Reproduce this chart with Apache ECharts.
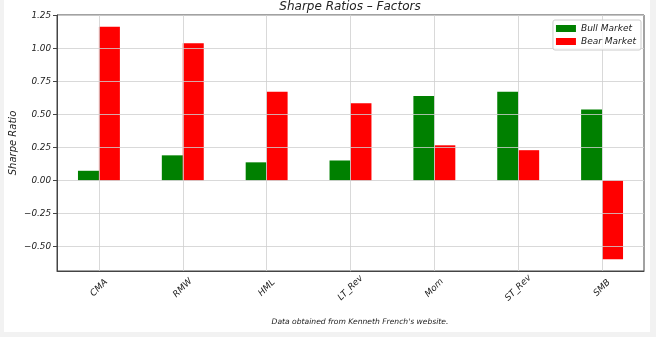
<!DOCTYPE html>
<html>
<head>
<meta charset="utf-8">
<script src="https://cdn.jsdelivr.net/npm/echarts@6/dist/echarts.min.js"></script>
<style>
  html, body { margin: 0; padding: 0; background: #f2f2f2; }
  #paper { position: absolute; left: 4px; top: 0; width: 646px; height: 332px; background: #ffffff; }
  #chart { position: absolute; left: 0; top: 0; width: 656px; height: 337px; }
</style>
</head>
<body>
<div id="paper"></div>
<div id="chart"></div>
<script>
// Sharpe ratios of the Fama-French factors in bull vs. bear markets
const factors = ['CMA', 'RMW', 'HML', 'LT_Rev', 'Mom', 'ST_Rev', 'SMB'];
const bullMarket = [0.073, 0.19, 0.137, 0.151, 0.639, 0.671, 0.538];
const bearMarket = [1.165, 1.04, 0.672, 0.584, 0.266, 0.229, -0.598];
const yTicks = [-0.5, -0.25, 0, 0.25, 0.5, 0.75, 1.0, 1.25];
const yStep = 0.25;

const FONT = 'DejaVu Sans';
const minus = s => s.replace('-', '\u2212');

// value range padded by 5% on both ends
const allVals = bullMarket.concat(bearMarket);
const vMin = Math.min(...allVals), vMax = Math.max(...allVals);
const pad = (vMax - vMin) * 0.05;

const chart = echarts.init(document.getElementById('chart'), null, { renderer: 'canvas' });

chart.setOption({
  animation: false,
  backgroundColor: 'transparent',
  title: {
    text: 'Sharpe Ratios \u2013 Factors',
    left: 350,
    textAlign: 'center',
    top: 1,
    padding: 0,
    textStyle: { fontFamily: FONT, fontStyle: 'italic', fontWeight: 'normal', fontSize: 12, color: '#222' }
  },
  legend: {
    data: ['Bull Market', 'Bear Market'],
    orient: 'vertical',
    right: 15,
    top: 20,
    icon: 'rect',
    itemWidth: 20,
    itemHeight: 7,
    itemGap: 4,
    padding: [4, 5, 4, 3],
    backgroundColor: 'rgba(255,255,255,0.8)',
    borderColor: '#cccccc',
    borderWidth: 1,
    borderRadius: 2,
    textStyle: { fontFamily: FONT, fontStyle: 'italic', fontSize: 9, color: '#222' }
  },
  grid: {
    left: 57, right: 12, top: 15, bottom: 66,
    show: true,
    borderColor: '#444',
    borderWidth: 1,
    containLabel: false,
    outerBoundsMode: 'none'
  },
  xAxis: {
    type: 'category',
    data: factors,
    z: 3,
    axisLine: { onZero: false, lineStyle: { color: '#444', width: 1 } },
    axisTick: { alignWithLabel: true, length: 4, lineStyle: { color: '#444' } },
    splitLine: { show: true, alignWithLabel: true, lineStyle: { color: 'rgba(208,208,208,0.8)', width: 1 } },
    axisLabel: {
      rotate: 45,
      align: 'center',
      verticalAlign: 'middle',
      margin: 17,
      fontFamily: FONT, fontStyle: 'italic', fontSize: 9, color: '#222'
    }
  },
  yAxis: {
    type: 'value',
    min: +(vMin - pad).toFixed(4),
    max: +(vMax + pad).toFixed(4),
    minInterval: yStep,
    maxInterval: yStep,
    z: 3,
    name: 'Sharpe Ratio',
    nameLocation: 'middle',
    nameRotate: 90,
    nameGap: 39,
    nameMoveOverlap: false,
    nameTextStyle: { fontFamily: FONT, fontStyle: 'italic', fontSize: 10, color: '#222' },
    axisLine: { show: true, lineStyle: { color: '#444', width: 1 } },
    axisTick: { show: true, length: 4, customValues: yTicks, lineStyle: { color: '#444' } },
    splitLine: { show: true, lineStyle: { color: 'rgba(208,208,208,0.8)', width: 1 } },
    axisLabel: {
      margin: 6,
      customValues: yTicks,
      fontFamily: FONT, fontStyle: 'italic', fontSize: 8.8, color: '#222',
      formatter: v => minus(v.toFixed(2))
    }
  },
  series: [
    {
      name: 'Bull Market',
      type: 'bar',
      data: bullMarket,
      barGap: '0%',
      barCategoryGap: '50%',
      itemStyle: { color: '#008000' }
    },
    {
      name: 'Bear Market',
      type: 'bar',
      data: bearMarket,
      barGap: '0%',
      barCategoryGap: '50%',
      itemStyle: { color: '#ff0000' }
    }
  ],
  graphic: [
    {
      type: 'text',
      x: 360,
      y: 322,
      style: {
        text: "Data obtained from Kenneth French's website.",
        align: 'center',
        verticalAlign: 'middle',
        fontFamily: FONT, fontStyle: 'italic', fontSize: 7.6, fill: '#222'
      }
    }
  ]
});
</script>
</body>
</html>
